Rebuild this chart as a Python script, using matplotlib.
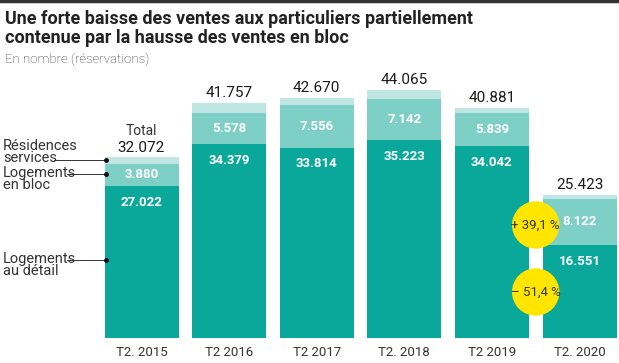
import matplotlib.pyplot as plt
from matplotlib.patches import Ellipse

plt.rcParams['font.family'] = ['Roboto', 'DejaVu Sans']

# data
years = ["T2. 2015", "T2 2016", "T2 2017", "T2. 2018", "T2 2019", "T2. 2020"]
totals = [32072, 41757, 42670, 44065, 40881, 25423]
detail = [27022, 34379, 33814, 35223, 34042, 16551]
bloc = [3880, 5578, 7556, 7142, 5839, 8122]
services = [t - d - b for t, d, b in zip(totals, detail, bloc)]

c_detail = "#0aa89a"
c_bloc = "#7ecfc6"
c_serv = "#bfe6e2"

W, H = 619, 363
fig = plt.figure(figsize=(W / 100, H / 100), dpi=100)
ax = fig.add_axes([0, 0, 1, 1])
ax.axis("off")

# pixel mapping: bar centre 0 at x=141.5px, spacing 87.6px; baseline at y=338px
sp = 87.6
ax.set_xlim(-141.5 / sp, (W - 141.5) / sp)
upp = 1 / 0.00563  # units per pixel
ax.set_ylim(-(H - 338) * upp, 338 * upp)

def px(xp):
    return (xp - 141.5) / sp

def py(yp):
    return (338 - yp) * upp

x = list(range(len(years)))
bw = 74 / sp
ax.bar(x, detail, width=bw, color=c_detail)
ax.bar(x, bloc, width=bw, bottom=detail, color=c_bloc)
ax.bar(x, services, width=bw, bottom=[d + b for d, b in zip(detail, bloc)], color=c_serv)

for i in x:
    ax.text(i, totals[i] + 500, f"{totals[i]:,}".replace(",", "."), ha="center",
            va="bottom", fontsize=11, color="#1a1a1a")
    ax.text(i, detail[i] + bloc[i] / 2, f"{bloc[i]:,}".replace(",", "."), ha="center",
            va="center", fontsize=9.5, fontweight="bold", color="white")
    ax.text(i, detail[i] - 2900, f"{detail[i]:,}".replace(",", "."), ha="center",
            va="center", fontsize=9.5, fontweight="bold", color="white")
    ax.text(i, -1400, years[i], ha="center", va="top", fontsize=9.5, color="#333333")

ax.text(0, totals[0] + 500 + 17 * upp, "Total", ha="center", va="bottom",
        fontsize=10, color="#333333")

# yellow circles between 2019 and 2020
cx = 4.5
r = 23
for ycen, txt in [(225, "+ 39,1 %"), (292, "\u2013 51,4 %")]:
    ax.add_patch(Ellipse((cx, py(ycen)), 2 * r / sp, 2 * r * upp, color="#ffe500",
                         zorder=5))
    ax.text(cx, py(ycen), txt, ha="center", va="center", fontsize=9.5,
            color="#333333", zorder=6)

# left annotations: (text, y of leader line, line start, vertical anchor, text y)
labels = [("Résidences\nservices", 160, 54, "bottom", 165),
          ("Logements\nen bloc", 174, 67, "top", 166),
          ("Logements\nau détail", 260, 67, "top", 252)]
xdot = px(106)
for txt, yp, x0, va, ty in labels:
    ax.text(px(3), py(ty), txt, ha="left", va=va, fontsize=10.5, color="#333333",
            linespacing=0.85)
    ax.plot([px(x0), xdot], [py(yp), py(yp)], color="#333333", lw=0.7)
    ax.plot([xdot], [py(yp)], "o", color="#111111", ms=2.5)

# title
fig.add_artist(plt.Line2D([0, 1], [1 - 1 / H, 1 - 1 / H], color="#333333", lw=2.5))
fig.text(5 / W, 1 - 10 / H, "Une forte baisse des ventes aux particuliers partiellement\n"
         "contenue par la hausse des ventes en bloc", ha="left", va="top",
         fontsize=13, fontweight="bold", color="#222222", linespacing=1.05)
fig.text(5 / W, 1 - 53 / H, "En nombre (réservations)", ha="left", va="top",
         fontsize=9.5, color="#333333", fontweight="light")

fig.savefig("out.png", dpi=100)
